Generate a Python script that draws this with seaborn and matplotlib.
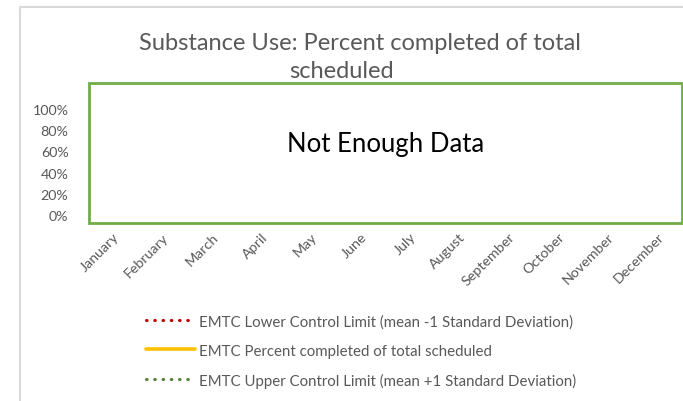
import numpy as np
import matplotlib as mpl
import matplotlib.pyplot as plt
import seaborn as sns
from matplotlib.patches import Rectangle
from matplotlib.lines import Line2D
from matplotlib.ticker import PercentFormatter

### DATA ###
months = ["January", "February", "March", "April", "May", "June", "July",
          "August", "September", "October", "November", "December"]
# no data recorded for any month
lower_limit = [np.nan] * 12
percent_completed = [np.nan] * 12
upper_limit = [np.nan] * 12
y_ticks = [0, 0.2, 0.4, 0.6, 0.8, 1.0]

title_lines = ["Substance Use: Percent completed of total", "scheduled"]
series_labels = ["EMTC Lower Control Limit (mean -1 Standard Deviation)",
                 "EMTC Percent completed of total scheduled",
                 "EMTC Upper Control Limit (mean +1 Standard Deviation)"]

### STYLE ###
sns.set_style("white")
plt.rcParams['font.family'] = ['Lato', 'DejaVu Sans']
grey = "#595959"

W, H = 683, 402
fig = plt.figure(figsize=(W / 100, H / 100), dpi=100)

def fx(px):
    return px / W

def fy(py):
    return 1 - py / H

# outer chart frame
fig.add_artist(Line2D([fx(19.5), fx(19.5)], [fy(8), 0], color="#D9D9D9", lw=1.5))
fig.add_artist(Line2D([fx(19.5), 1], [fy(8), fy(8)], color="#D9D9D9", lw=1.5))

# plot area
ax = fig.add_axes([fx(88), fy(216), fx(682) - fx(88), fy(110) - fy(216)])
x = np.arange(len(months))
dots = (0, (0.2, 2.5))
ax.plot(x, lower_limit, color="#C00000", lw=2.2, ls=dots,
        dash_capstyle="round", label=series_labels[0])
ax.plot(x, percent_completed, color="#FFC000", lw=2.6, solid_capstyle="round",
        label=series_labels[1])
ax.plot(x, upper_limit, color="#548235", lw=2.2, ls=dots,
        dash_capstyle="round", label=series_labels[2])
ax.set_xlim(-0.5, len(months) - 0.5)
ax.set_ylim(0, 1)
ax.set_yticks(y_ticks)
ax.yaxis.set_major_formatter(PercentFormatter(1.0, decimals=0))
ax.set_xticks(x)
ax.set_xticklabels(months, rotation=45, ha="right", rotation_mode="anchor")
ax.tick_params(axis="both", colors=grey, labelsize=10.3, length=0)
ax.tick_params(axis="y", pad=14)
ax.tick_params(axis="x", pad=11)
for s in ax.spines.values():
    s.set_visible(False)

# title (two wrapped lines as in the original)
fig.text(fx(360), fy(43), title_lines[0], ha="center", va="center",
         fontsize=17, color=grey)
fig.text(fx(342), fy(72), title_lines[1], ha="center", va="center",
         fontsize=17, color=grey)

# "Not Enough Data" box drawn over the plot area
fig.add_artist(Rectangle((fx(89), fy(224)), fx(682) - fx(89), fy(84) - fy(224),
                         transform=fig.transFigure, facecolor="white",
                         edgecolor="#70AD47", lw=2, zorder=5))
fig.text(fx(386), fy(145), "Not Enough Data", ha="center", va="center",
         fontsize=18.5, color="black", zorder=6)

# legend below
leg = fig.legend(*ax.get_legend_handles_labels(), loc="center",
                 bbox_to_anchor=(fx(361), fy(352)), ncol=1, frameon=False,
                 fontsize=10.8, labelcolor=grey, handlelength=3.3,
                 handletextpad=0.25, labelspacing=1.0)

plt.savefig("out.png", dpi=100)
